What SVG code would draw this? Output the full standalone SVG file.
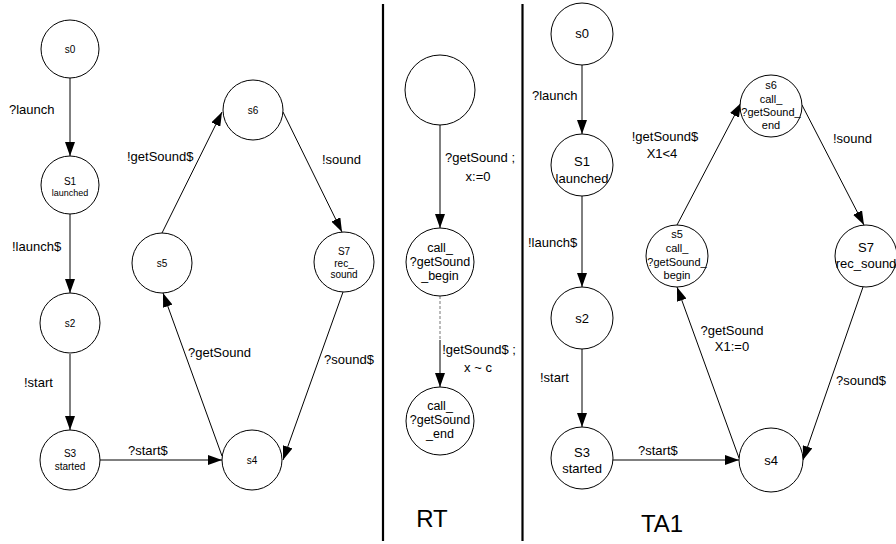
<svg xmlns="http://www.w3.org/2000/svg" width="896" height="544" viewBox="0 0 896 544">
<style>
text{font-family:"Liberation Sans",Arial,sans-serif;fill:#000}
.n circle{fill:#fff;stroke:#000;stroke-width:1}
.s{font-size:10px;text-anchor:middle}
.xs{font-size:9px;text-anchor:middle}
.m{font-size:13px;text-anchor:middle}
.r{font-size:11px;text-anchor:middle}
.rt{font-size:12.5px;text-anchor:middle}
.lb{font-size:13px}
.lbc{font-size:13px;text-anchor:middle}
.big{font-size:24px;text-anchor:middle}
.e line{stroke:#000;stroke-width:1;fill:none}
.dv{stroke:#000;stroke-width:2.2}
</style>
<defs>
<marker id="ah" markerUnits="userSpaceOnUse" markerWidth="14" markerHeight="10" refX="14" refY="5" orient="auto">
<path d="M0,0 L14,5 L0,10 z" fill="#000"/>
</marker>
</defs>
<rect width="896" height="544" fill="#fff"/>
<g id="dividers">
<line class="dv" x1="383" y1="4" x2="383" y2="541"/>
<line class="dv" x1="522.5" y1="4" x2="522.5" y2="541"/>
</g>
<g id="connectors" class="e">
<line x1="70" y1="78" x2="70" y2="156" marker-end="url(#ah)"/>
<line x1="70" y1="214" x2="70" y2="293" marker-end="url(#ah)"/>
<line x1="70" y1="354" x2="70" y2="430" marker-end="url(#ah)"/>
<line x1="100" y1="460" x2="222" y2="460" marker-end="url(#ah)"/>
<line x1="222" y1="456" x2="163" y2="293" marker-end="url(#ah)"/>
<line x1="162" y1="233" x2="222" y2="112" marker-end="url(#ah)"/>
<line x1="283" y1="112" x2="342" y2="232" marker-end="url(#ah)"/>
<line x1="343" y1="292" x2="283" y2="460" marker-end="url(#ah)"/>
<line x1="440" y1="125" x2="440" y2="228" marker-end="url(#ah)"/>
<line x1="440" y1="296" x2="440" y2="340" style="stroke:#777;stroke-dasharray:3,2"/>
<line x1="440" y1="340" x2="440" y2="387" marker-end="url(#ah)"/>
<line x1="582" y1="65" x2="582" y2="134" marker-end="url(#ah)"/>
<line x1="582" y1="196" x2="582" y2="287" marker-end="url(#ah)"/>
<line x1="582" y1="349" x2="582" y2="427" marker-end="url(#ah)"/>
<line x1="613" y1="460" x2="739" y2="460" marker-end="url(#ah)"/>
<line x1="739" y1="458" x2="677" y2="287" marker-end="url(#ah)"/>
<line x1="677" y1="225" x2="741" y2="103" marker-end="url(#ah)"/>
<line x1="802" y1="105" x2="864" y2="225" marker-end="url(#ah)"/>
<line x1="863" y1="287" x2="803" y2="460" marker-end="url(#ah)"/>
</g>
<g id="edge-labels">
<text class="lb" x="9" y="114">?launch</text>
<text class="lb" x="12" y="251">!launch$</text>
<text class="lb" x="24" y="387">!start</text>
<text class="lb" x="128" y="455">?start$</text>
<text class="lb" x="188" y="357">?getSound</text>
<text class="lb" x="324" y="364">?sound$</text>
<text class="lb" x="127" y="161">!getSound$</text>
<text class="lb" x="322" y="164">!sound</text>
<text class="lbc" x="480" y="162">?getSound ;</text>
<text class="lbc" x="478" y="181">x:=0</text>
<text class="lbc" x="479" y="354">!getSound$ ;</text>
<text class="lbc" x="478" y="372">x ~ c</text>
<text class="lb" x="532" y="100">?launch</text>
<text class="lb" x="528" y="247">!launch$</text>
<text class="lb" x="540" y="382">!start</text>
<text class="lb" x="638" y="455">?start$</text>
<text class="lbc" x="665" y="141">!getSound$</text>
<text class="lbc" x="662" y="158">X1&lt;4</text>
<text class="lb" x="833" y="143">!sound</text>
<text class="lbc" x="732" y="335">?getSound</text>
<text class="lbc" x="732" y="351">X1:=0</text>
<text class="lb" x="836" y="385">?sound$</text>
</g>
<g id="L-s0" class="n"><circle cx="70" cy="49" r="29"/><text class="s" x="70" y="53">s0</text></g>
<g id="L-S1" class="n"><circle cx="70" cy="185" r="29"/><text class="s" x="70" y="185">S1</text><text class="xs" x="70" y="196">launched</text></g>
<g id="L-s2" class="n"><circle cx="70" cy="323" r="30"/><text class="s" x="70" y="327">s2</text></g>
<g id="L-S3" class="n"><circle cx="70" cy="460" r="30"/><text class="s" x="70" y="457">S3</text><text class="s" x="70" y="470">started</text></g>
<g id="L-s4" class="n"><circle cx="252" cy="460" r="30"/><text class="s" x="252" y="464">s4</text></g>
<g id="L-s5" class="n"><circle cx="162" cy="263" r="30"/><text class="s" x="162" y="267">s5</text></g>
<g id="L-s6" class="n"><circle cx="253" cy="110" r="30"/><text class="s" x="253" y="114">s6</text></g>
<g id="L-S7" class="n"><circle cx="344" cy="262" r="30"/><text class="s" x="344" y="255">S7</text><text class="s" x="344" y="267">rec_</text><text class="s" x="344" y="278">sound</text></g>
<g id="RT-init" class="n"><circle cx="440" cy="90" r="35"/></g>
<g id="RT-begin" class="n"><circle cx="440" cy="262" r="34"/><text class="rt" x="440" y="252">call_</text><text class="rt" x="440" y="266">?getSound</text><text class="rt" x="440" y="280">_begin</text></g>
<g id="RT-end" class="n"><circle cx="440" cy="421" r="34"/><text class="rt" x="440" y="410">call_</text><text class="rt" x="440" y="424">?getSound</text><text class="rt" x="440" y="438">_end</text></g>
<g id="T-s0" class="n"><circle cx="582" cy="34" r="31"/><text class="m" x="582" y="38">s0</text></g>
<g id="T-S1" class="n"><circle cx="582" cy="165" r="31"/><text class="m" x="582" y="166">S1</text><text class="m" x="582" y="183">launched</text></g>
<g id="T-s2" class="n"><circle cx="582" cy="318" r="31"/><text class="m" x="582" y="323">s2</text></g>
<g id="T-S3" class="n"><circle cx="582" cy="458" r="31"/><text class="m" x="582" y="457">S3</text><text class="m" x="582" y="473">started</text></g>
<g id="T-s4" class="n"><circle cx="771" cy="460" r="32"/><text class="m" x="771" y="465">s4</text></g>
<g id="T-s5" class="n"><circle cx="677" cy="256" r="31"/><text class="r" x="677" y="238">s5</text><text class="r" x="677" y="252">call_</text><text class="r" x="677" y="266">?getSound_</text><text class="r" x="677" y="279">begin</text></g>
<g id="T-s6" class="n"><circle cx="771" cy="106" r="31"/><text class="r" x="771" y="89">s6</text><text class="r" x="771" y="103">call_</text><text class="r" x="771" y="116">?getSound_</text><text class="r" x="771" y="129">end</text></g>
<g id="T-S7" class="n"><circle cx="866" cy="256" r="31"/><text class="m" x="866" y="252">S7</text><text class="m" x="866" y="268">rec_sound</text></g>
<g id="titles">
<text class="big" x="432" y="527">RT</text>
<text class="big" x="662" y="532">TA1</text>
</g>
</svg>
